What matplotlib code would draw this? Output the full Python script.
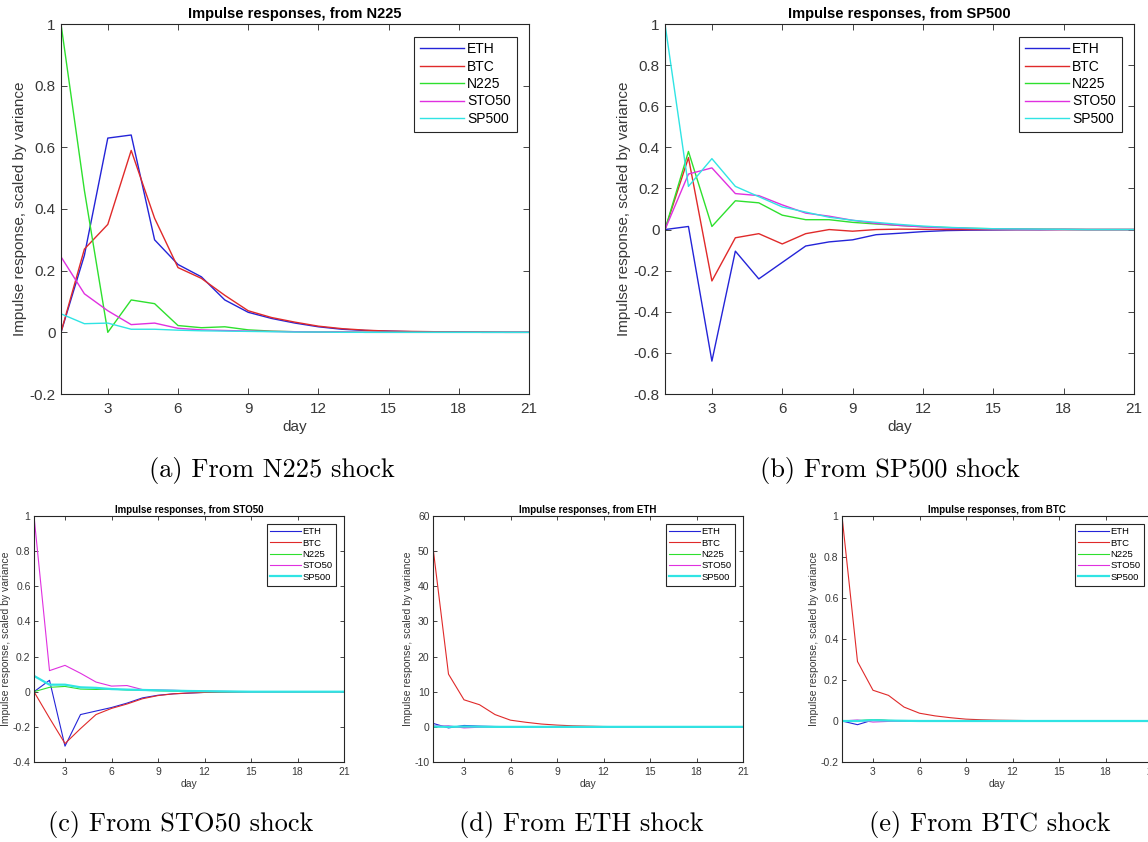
"""
Impulse responses (scaled by variance) for ETH, BTC, N225, STO50, SP500.
Five panels, MATLAB-like styling, LaTeX-ish subcaptions.
"""
import matplotlib
matplotlib.use("Agg")
import matplotlib.pyplot as plt
from matplotlib import rcParams
from matplotlib.ticker import FuncFormatter

rcParams.update({
    "font.family": ["Liberation Sans", "DejaVu Sans"],
    "axes.unicode_minus": False,
    "axes.edgecolor": "#262626",
    "axes.linewidth": 0.8,
    "xtick.color": "#262626", "ytick.color": "#262626",
    "xtick.labelcolor": "#383838", "ytick.labelcolor": "#383838",
    "xtick.direction": "in", "ytick.direction": "in",
    "xtick.top": True, "ytick.right": True,
})

# ---------------------------------------------------------------------------
#  Data
# ---------------------------------------------------------------------------
DAYS = list(range(1, 22))
SERIES = ["ETH", "BTC", "N225", "STO50", "SP500"]
COLORS = ["#2424d8", "#e02a2a", "#2ee02e", "#e030e0", "#30e4e4"]

# shock from N225
N225_ETH   = [0.0, 0.25, 0.63, 0.64, 0.30, 0.22, 0.18, 0.105, 0.065, 0.045, 0.03,
              0.018, 0.01, 0.006, 0.004, 0.002, 0.001, 0.001, 0.0, 0.0, 0.0]
N225_BTC   = [0.0, 0.27, 0.35, 0.59, 0.37, 0.21, 0.175, 0.12, 0.07, 0.048, 0.033,
              0.02, 0.012, 0.007, 0.004, 0.003, 0.002, 0.001, 0.001, 0.0, 0.0]
N225_N225  = [1.0, 0.46, 0.0, 0.105, 0.093, 0.022, 0.015, 0.018, 0.008, 0.004, 0.002,
              0.001, 0.001, 0.0, 0.0, 0.0, 0.0, 0.0, 0.0, 0.0, 0.0]
N225_STO50 = [0.245, 0.125, 0.07, 0.025, 0.03, 0.013, 0.008, 0.006, 0.004, 0.003, 0.002,
              0.001, 0.001, 0.0, 0.0, 0.0, 0.0, 0.0, 0.0, 0.0, 0.0]
N225_SP500 = [0.06, 0.028, 0.03, 0.01, 0.01, 0.007, 0.005, 0.004, 0.003, 0.002, 0.001,
              0.001, 0.0, 0.0, 0.0, 0.0, 0.0, 0.0, 0.0, 0.0, 0.0]

# shock from SP500
SP500_ETH   = [0.0, 0.015, -0.64, -0.105, -0.24, -0.16, -0.08, -0.06, -0.05, -0.025, -0.018,
               -0.01, -0.005, -0.003, -0.002, -0.001, -0.001, 0.0, 0.0, 0.0, 0.0]
SP500_BTC   = [0.0, 0.35, -0.25, -0.04, -0.02, -0.07, -0.02, 0.0, -0.008, 0.0, 0.002,
               0.001, 0.0, 0.0, 0.0, 0.0, 0.0, 0.0, 0.0, 0.0, 0.0]
SP500_N225  = [0.0, 0.38, 0.015, 0.14, 0.13, 0.07, 0.048, 0.048, 0.035, 0.027, 0.02,
               0.014, 0.01, 0.006, 0.004, 0.003, 0.002, 0.001, 0.0, 0.0, 0.0]
SP500_STO50 = [0.0, 0.27, 0.30, 0.175, 0.165, 0.12, 0.08, 0.065, 0.045, 0.03, 0.02,
               0.013, 0.008, 0.005, 0.003, 0.002, 0.001, 0.001, 0.0, 0.0, 0.0]
SP500_SP500 = [1.0, 0.21, 0.345, 0.21, 0.16, 0.11, 0.085, 0.06, 0.045, 0.035, 0.025,
               0.017, 0.011, 0.007, 0.004, 0.003, 0.002, 0.001, 0.0, 0.0, 0.0]

# shock from STO50
STO50_ETH   = [0.0, 0.065, -0.31, -0.13, -0.11, -0.09, -0.065, -0.035, -0.02, -0.012, -0.008,
               -0.004, -0.002, -0.001, 0.0, 0.0, 0.0, 0.0, 0.0, 0.0, 0.0]
STO50_BTC   = [0.0, -0.15, -0.295, -0.21, -0.13, -0.095, -0.07, -0.04, -0.022, -0.012, -0.007,
               -0.004, -0.002, -0.001, 0.0, 0.0, 0.0, 0.0, 0.0, 0.0, 0.0]
STO50_N225  = [0.0, 0.025, 0.03, 0.015, 0.013, 0.015, 0.01, 0.008, 0.005, 0.003, 0.002,
               0.001, 0.0, 0.0, 0.0, 0.0, 0.0, 0.0, 0.0, 0.0, 0.0]
STO50_STO50 = [1.0, 0.12, 0.15, 0.105, 0.055, 0.032, 0.035, 0.012, 0.01, 0.008, 0.005,
               0.003, 0.002, 0.001, 0.0, 0.0, 0.0, 0.0, 0.0, 0.0, 0.0]
STO50_SP500 = [0.09, 0.04, 0.04, 0.025, 0.022, 0.015, 0.012, 0.01, 0.008, 0.006, 0.004,
               0.003, 0.002, 0.001, 0.0, 0.0, 0.0, 0.0, 0.0, 0.0, 0.0]

# shock from ETH
ETH_ETH   = [1.0, -0.3, 0.4, 0.2, 0.1, 0.05, 0.02, 0.01, 0.0, 0.0, 0.0,
             0.0, 0.0, 0.0, 0.0, 0.0, 0.0, 0.0, 0.0, 0.0, 0.0]
ETH_BTC   = [51.0, 15.0, 7.7, 6.3, 3.5, 1.9, 1.3, 0.8, 0.5, 0.3, 0.2,
             0.1, 0.06, 0.03, 0.02, 0.01, 0.0, 0.0, 0.0, 0.0, 0.0]
ETH_N225  = [0.0, 0.1, -0.1, 0.1, 0.0, 0.0, 0.0, 0.0, 0.0, 0.0, 0.0,
             0.0, 0.0, 0.0, 0.0, 0.0, 0.0, 0.0, 0.0, 0.0, 0.0]
ETH_STO50 = [0.2, 0.3, -0.3, -0.1, 0.0, 0.0, 0.0, 0.0, 0.0, 0.0, 0.0,
             0.0, 0.0, 0.0, 0.0, 0.0, 0.0, 0.0, 0.0, 0.0, 0.0]
ETH_SP500 = [0.1, 0.0, 0.1, 0.05, 0.0, 0.0, 0.0, 0.0, 0.0, 0.0, 0.0,
             0.0, 0.0, 0.0, 0.0, 0.0, 0.0, 0.0, 0.0, 0.0, 0.0]

# shock from BTC
BTC_ETH   = [0.0, -0.018, 0.005, 0.002, 0.0, 0.0, 0.0, 0.0, 0.0, 0.0, 0.0,
             0.0, 0.0, 0.0, 0.0, 0.0, 0.0, 0.0, 0.0, 0.0, 0.0]
BTC_BTC   = [1.0, 0.29, 0.15, 0.125, 0.068, 0.038, 0.025, 0.016, 0.009, 0.006, 0.004,
             0.003, 0.002, 0.001, 0.0, 0.0, 0.0, 0.0, 0.0, 0.0, 0.0]
BTC_N225  = [0.0, 0.002, 0.007, 0.003, 0.001, 0.0, 0.0, 0.0, 0.0, 0.0, 0.0,
             0.0, 0.0, 0.0, 0.0, 0.0, 0.0, 0.0, 0.0, 0.0, 0.0]
BTC_STO50 = [0.0, 0.005, -0.005, -0.002, 0.0, 0.0, 0.0, 0.0, 0.0, 0.0, 0.0,
             0.0, 0.0, 0.0, 0.0, 0.0, 0.0, 0.0, 0.0, 0.0, 0.0]
BTC_SP500 = [0.0, 0.0, 0.004, 0.002, 0.001, 0.0, 0.0, 0.0, 0.0, 0.0, 0.0,
             0.0, 0.0, 0.0, 0.0, 0.0, 0.0, 0.0, 0.0, 0.0, 0.0]

# panel: (source, series, ylim, ytick step, caption, box in px [l, t, r, b], caption xy px, big?)
PANELS = [
    ("N225",  [N225_ETH, N225_BTC, N225_N225, N225_STO50, N225_SP500], (-0.2, 1.0), 0.2,
     "(a) From N225 shock", (61, 24, 529, 394), (272, 470), True),
    ("SP500", [SP500_ETH, SP500_BTC, SP500_N225, SP500_STO50, SP500_SP500], (-0.8, 1.0), 0.2,
     "(b) From SP500 shock", (665, 24, 1134, 394), (890, 470), True),
    ("STO50", [STO50_ETH, STO50_BTC, STO50_N225, STO50_STO50, STO50_SP500], (-0.4, 1.0), 0.2,
     "(c) From STO50 shock", (34, 516, 344, 762), (181, 825), False),
    ("ETH",   [ETH_ETH, ETH_BTC, ETH_N225, ETH_STO50, ETH_SP500], (-10, 60), 10,
     "(d) From ETH shock", (433, 516, 743, 762), (581, 825), False),
    ("BTC",   [BTC_ETH, BTC_BTC, BTC_N225, BTC_STO50, BTC_SP500], (-0.2, 1.0), 0.2,
     "(e) From BTC shock", (842, 516, 1152, 762), (990, 825), False),
]

W, H = 1148, 842
fig = plt.figure(figsize=(W / 100, H / 100), dpi=100)
fmt = FuncFormatter(lambda v, _: f"{v:g}")

for src, data, ylim, step, caption, (l, t, r, b), (cx, cy), big in PANELS:
    ax = fig.add_axes([l / W, 1 - b / H, (r - l) / W, (b - t) / H])
    fs = 11 if big else 7.5
    lw = 1.0 if big else 0.8
    for name, vals, col in zip(SERIES, data, COLORS):
        w = lw
        if name == "SP500" and not big:
            w = 1.6
        ax.plot(DAYS, vals, color=col, lw=w, label=name)

    ax.set_xlim(1, 21)
    ax.set_ylim(*ylim)
    ax.set_xticks(range(3, 22, 3))
    n = int(round((ylim[1] - ylim[0]) / step))
    ax.set_yticks([ylim[0] + k * step for k in range(n + 1)])
    ax.yaxis.set_major_formatter(fmt)
    ax.tick_params(labelsize=fs, length=4.5 if big else 3, width=0.6)
    ax.tick_params(axis="x", pad=6 if big else 3.5)
    ax.tick_params(axis="y", pad=4 if big else 2.5)

    ax.set_title(f"Impulse responses, from {src}", fontsize=fs - 0.5, fontweight="bold",
                 pad=4 if big else 2.5)
    ax.set_xlabel("day", fontsize=fs, color="#383838", labelpad=3 if big else 1.5)
    ax.set_ylabel("Impulse response, scaled by variance", fontsize=fs, color="#383838",
                  labelpad=2 if big else 1)

    leg = ax.legend(loc="upper right", fontsize=10 if big else 6.8, fancybox=False,
                    framealpha=1, edgecolor="#262626", handlelength=3.2,
                    handletextpad=0.2, labelspacing=0.25, borderpad=0.4,
                    borderaxespad=0.9 if big else 0.8)
    leg.get_frame().set_linewidth(0.8)

    fig.text(cx / W, 1 - cy / H, caption, fontsize=19, family="cmr10",
             ha="center", va="center")

fig.savefig("out.png", dpi=100)
